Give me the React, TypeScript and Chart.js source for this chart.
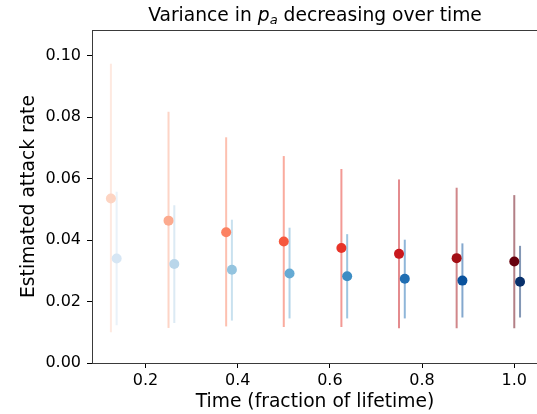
import React, { useEffect, useRef } from 'react';
import { Chart, registerables } from 'chart.js';

Chart.register(...registerables);

// ---- data ----
const redTimes = [0.125, 0.25, 0.375, 0.5, 0.625, 0.75, 0.875, 1.0];
const blueTimes = [0.1375, 0.2625, 0.3875, 0.5125, 0.6375, 0.7625, 0.8875, 1.0125];

const redMeans = [0.0535, 0.0463, 0.0425, 0.0395, 0.0374, 0.0355, 0.0341, 0.0330];
const redUpper = [0.0973, 0.0817, 0.0734, 0.0673, 0.0631, 0.0597, 0.0570, 0.0546];
const redLower = [0.0100, 0.0114, 0.0119, 0.0117, 0.0117, 0.0113, 0.0113, 0.0113];

const blueMeans = [0.0340, 0.0322, 0.0303, 0.0291, 0.0282, 0.0274, 0.0268, 0.0264];
const blueUpper = [0.0557, 0.0513, 0.0466, 0.0440, 0.0419, 0.0401, 0.0389, 0.0381];
const blueLower = [0.0123, 0.0130, 0.0138, 0.0145, 0.0145, 0.0145, 0.0148, 0.0148];

const redColors = ['#fdd4c2', '#fcaa8e', '#fc8161', '#f6583e', '#e83429', '#c9181d', '#a30f15', '#67000d'];
const blueColors = ['#d6e6f4', '#b9d6ea', '#94c4df', '#65aad4', '#3d8dc4', '#1f6eb3', '#0a529d', '#08306b'];

const xTicks = [0.2, 0.4, 0.6, 0.8, 1.0];
const yTicks = [0.0, 0.02, 0.04, 0.06, 0.08, 0.10];

const X_MIN = 0.084;
const X_MAX = 1.0493;
const Y_MIN = 0;
const Y_MAX = 0.1083;

const titleText = { before: 'Variance in ', sym: 'p', sub: 'a', after: ' decreasing over time' };
const xLabel = 'Time (fraction of lifetime)';
const yLabel = 'Estimated attack rate';

const FONT = "'DejaVu Sans', sans-serif";
const SPINE = '#3a3a3a';

function withAlpha(hex: string, a: number) {
  const r = parseInt(hex.slice(1, 3), 16);
  const g = parseInt(hex.slice(3, 5), 16);
  const b = parseInt(hex.slice(5, 7), 16);
  return `rgba(${r},${g},${b},${a})`;
}

const errorBarPlugin = {
  id: 'errorBars',
  beforeDatasetsDraw(chart: any) {
    const ctx = chart.ctx;
    const xs = chart.scales.x;
    const ys = chart.scales.y;
    const series = [
      { t: redTimes, lo: redLower, hi: redUpper, c: redColors },
      { t: blueTimes, lo: blueLower, hi: blueUpper, c: blueColors },
    ];
    ctx.save();
    ctx.lineWidth = 2;
    ctx.lineCap = 'butt';
    for (let i = 0; i < redTimes.length; i++) {
      for (const s of series) {
        const x = xs.getPixelForValue(s.t[i]);
        ctx.strokeStyle = withAlpha(s.c[i], 0.5);
        ctx.beginPath();
        ctx.moveTo(x, ys.getPixelForValue(s.lo[i]));
        ctx.lineTo(x, ys.getPixelForValue(s.hi[i]));
        ctx.stroke();
      }
    }
    ctx.restore();
  },
};

const textPlugin = {
  id: 'texts',
  afterDraw(chart: any) {
    const ctx = chart.ctx;
    const { left, top, bottom } = chart.chartArea;
    ctx.save();
    // top spine
    ctx.strokeStyle = SPINE;
    ctx.lineWidth = 1;
    ctx.beginPath();
    ctx.moveTo(left, Math.round(top) + 0.5);
    ctx.lineTo(chart.width, Math.round(top) + 0.5);
    ctx.stroke();

    const centerX = 315;
    ctx.fillStyle = '#000';
    ctx.textBaseline = 'alphabetic';
    // title
    const big = `18.7px ${FONT}`;
    const ital = `italic 18.7px ${FONT}`;
    const small = `italic 13.1px ${FONT}`;
    ctx.font = big;
    const w1 = ctx.measureText(titleText.before).width;
    const w3 = ctx.measureText(titleText.after).width;
    ctx.font = ital;
    const w2 = ctx.measureText(titleText.sym).width;
    ctx.font = small;
    const wsub = ctx.measureText(titleText.sub).width;
    const total = w1 + w2 + wsub + w3;
    let x = centerX - total / 2;
    const by = 20.5;
    ctx.textAlign = 'left';
    ctx.font = big;
    ctx.fillText(titleText.before, x, by);
    x += w1;
    ctx.font = ital;
    ctx.fillText(titleText.sym, x, by);
    x += w2;
    ctx.font = small;
    ctx.fillText(titleText.sub, x, by + 3);
    x += wsub;
    ctx.font = big;
    ctx.fillText(titleText.after, x, by);

    // x label
    ctx.textAlign = 'center';
    ctx.font = big;
    ctx.fillText(xLabel, centerX, 406.5);

    // y label
    ctx.translate(34, (top + bottom) / 2);
    ctx.rotate(-Math.PI / 2);
    ctx.fillText(yLabel, 0, 0);
    ctx.restore();
  },
};

export default function App() {
  const ref = useRef<HTMLCanvasElement | null>(null);

  useEffect(() => {
    if (!ref.current) return;
    const chart = new Chart(ref.current, {
      type: 'scatter',
      data: {
        datasets: [
          {
            label: 'red',
            data: redTimes.map((t, i) => ({ x: t, y: redMeans[i] })),
            pointBackgroundColor: redColors,
            pointBorderColor: redColors,
            pointRadius: 5,
            pointBorderWidth: 0,
            showLine: false,
          },
          {
            label: 'blue',
            data: blueTimes.map((t, i) => ({ x: t, y: blueMeans[i] })),
            pointBackgroundColor: blueColors,
            pointBorderColor: blueColors,
            pointRadius: 5,
            pointBorderWidth: 0,
            showLine: false,
          },
        ],
      },
      options: {
        animation: false,
        responsive: false,
        devicePixelRatio: 1,
        layout: { autoPadding: false, padding: { top: 30, right: 0, bottom: 0, left: 0 } },
        plugins: {
          legend: { display: false },
          tooltip: { enabled: false },
          title: { display: false },
        },
        scales: {
          x: {
            type: 'linear',
            min: X_MIN,
            max: X_MAX,
            afterFit: (s: any) => {
              s.height = 51;
              s.paddingLeft = 0;
              s.paddingRight = 0;
            },
            afterBuildTicks: (s: any) => {
              s.ticks = xTicks.map((v) => ({ value: v }));
            },
            ticks: {
              callback: (v: any) => Number(v).toFixed(1),
              font: { family: FONT, size: 16 },
              color: '#000',
              padding: 3,
              maxRotation: 0,
              autoSkip: false,
            },
            grid: {
              display: true,
              drawOnChartArea: false,
              drawTicks: true,
              tickLength: 5,
              tickWidth: 1,
              tickColor: '#000',
            },
            border: { display: true, color: SPINE, width: 1 },
          },
          y: {
            type: 'linear',
            min: Y_MIN,
            max: Y_MAX,
            afterFit: (s: any) => {
              s.width = 92;
            },
            afterBuildTicks: (s: any) => {
              s.ticks = yTicks.map((v) => ({ value: v }));
            },
            ticks: {
              callback: (v: any) => Number(v).toFixed(2),
              font: { family: FONT, size: 16 },
              color: '#000',
              padding: 6,
              autoSkip: false,
            },
            grid: {
              display: true,
              drawOnChartArea: false,
              drawTicks: true,
              tickLength: 5,
              tickWidth: 1,
              tickColor: '#000',
            },
            border: { display: true, color: SPINE, width: 1 },
          },
        },
      },
      plugins: [errorBarPlugin, textPlugin],
    } as any);
    return () => chart.destroy();
  }, []);

  return (
    <div style={{ position: 'fixed', left: 0, top: 0, width: 537, height: 414, background: '#fff', overflow: 'hidden' }}>
      <canvas ref={ref} width={537} height={414} style={{ display: 'block' }} />
    </div>
  );
}
